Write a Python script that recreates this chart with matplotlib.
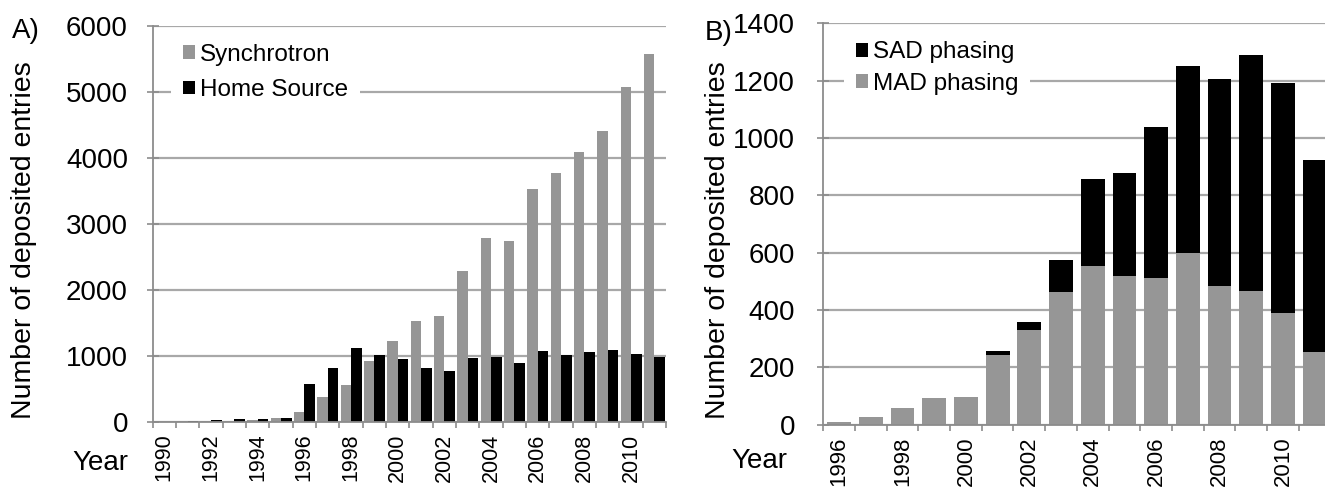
import matplotlib
matplotlib.use("Agg")
import matplotlib.pyplot as plt
from matplotlib.patches import Patch
import numpy as np

plt.rcParams['font.family'] = ['Liberation Sans', 'DejaVu Sans']

# Panel A data
years_a = list(range(1990, 2012))
synchrotron = [0, 5, 10, 15, 20, 60, 152, 370, 558, 914, 1228, 1525, 1601, 2283,
               2783, 2732, 3525, 3763, 4091, 4404, 5066, 5566]
home_source = [0, 10, 30, 45, 35, 50, 568, 812, 1117, 1005, 944, 808, 773, 960,
               980, 889, 1071, 1015, 1056, 1091, 1020, 985]

# Panel B data
years_b = list(range(1996, 2012))
mad = [8, 26, 57, 92, 97, 243, 331, 464, 555, 517, 513, 597, 483, 467, 388, 253]
total_b = [8, 26, 57, 92, 97, 258, 357, 574, 857, 877, 1038, 1250, 1207, 1289, 1190, 922]
sad = [t - m for t, m in zip(total_b, mad)]

GRAY = '#969696'
GRID = '#a8a8a8'
SPINE = '#8c8c8c'

W, H = 1325, 487
fig = plt.figure(figsize=(W / 100, H / 100), dpi=100)

def px_axes(left, right, top, bottom):
    return fig.add_axes([left / W, (H - bottom) / H, (right - left) / W, (bottom - top) / H])

axA = px_axes(152.7, 666.0, 25.7, 421.7)
axB = px_axes(823.3, 823.3 + 16 * 31.7, 23.3, 424.6)

def style(ax, n, years, ymax, ystep, ypad, xfs):
    ax.set_xlim(-0.5, n - 0.5)
    ax.set_ylim(0, ymax)
    ax.set_yticks(np.arange(0, ymax + 1, ystep))
    ax.yaxis.grid(True, color=GRID, linewidth=1.6)
    ax.set_axisbelow(True)
    for s in ['top', 'right']:
        ax.spines[s].set_visible(False)
    for s in ['left', 'bottom']:
        ax.spines[s].set_color(SPINE)
        ax.spines[s].set_linewidth(1.3)
    ax.tick_params(axis='y', direction='inout', length=9, width=1.2, color=SPINE,
                   labelsize=20, pad=ypad)
    ax.set_xticks(np.arange(n + 1) - 0.5)
    ax.set_xticklabels([])
    ax.tick_params(axis='x', which='major', direction='out', length=4.5, width=1.2, color=SPINE)
    ax.set_xticks(np.arange(n), minor=True)
    ax.set_xticklabels([str(y) if i % 2 == 0 else '' for i, y in enumerate(years)],
                       minor=True, rotation=90, fontsize=xfs)
    ax.tick_params(axis='x', which='minor', length=0, pad=8.5)

def make_legend(ax, handles, labels, x, spacing):
    leg = ax.legend(handles, labels, loc='upper left',
                    bbox_to_anchor=(x, 0.985), fontsize=17.5, frameon=True,
                    handlelength=0.5, handleheight=0.5, handletextpad=0.2,
                    labelspacing=spacing, borderpad=0.5, borderaxespad=0.0)
    fr = leg.get_frame()
    fr.set_edgecolor('none')
    fr.set_facecolor('white')
    fr.set_alpha(1)
    leg.set_zorder(2.3)
    return leg

# Panel A
xa = np.arange(len(years_a))
bw = 0.45
axA.bar(xa - bw / 2, synchrotron, width=bw, color=GRAY, label='Synchrotron', zorder=2)
axA.bar(xa + bw / 2, home_source, width=bw, color='black', label='Home Source', zorder=2)
style(axA, len(years_a), years_a, 6000, 1000, 13.3, 15.5)
hA = [Patch(facecolor=GRAY, edgecolor='none'), Patch(facecolor='black', edgecolor='none')]
make_legend(axA, hA, ['Synchrotron', 'Home Source'], 0.035, 0.55)

# Panel B
xb = np.arange(len(years_b))
axB.bar(xb, mad, width=0.75, color=GRAY, label='MAD phasing', zorder=2)
axB.bar(xb, sad, width=0.75, bottom=mad, color='black', label='SAD phasing', zorder=2)
style(axB, len(years_b), years_b, 1400, 200, 15.9, 16)
hB = [Patch(facecolor='black', edgecolor='none'), Patch(facecolor=GRAY, edgecolor='none')]
make_legend(axB, hB, ['SAD phasing', 'MAD phasing'], 0.04, 0.38)

# Figure texts
fig.text(12 / W, (H - 38) / H, 'A)', fontsize=20, ha='left', va='baseline')
fig.text(705 / W, (H - 40) / H, 'B)', fontsize=20, ha='left', va='baseline')
fig.text(24 / W, (H - 240) / H, 'Number of deposited entries', fontsize=20.5,
         rotation=90, ha='center', va='center')
fig.text(718 / W, (H - 240) / H, 'Number of deposited entries', fontsize=20.5,
         rotation=90, ha='center', va='center')
fig.text(128 / W, (H - 470) / H, 'Year', fontsize=20, ha='right', va='baseline')
fig.text(787 / W, (H - 468) / H, 'Year', fontsize=20, ha='right', va='baseline')

fig.savefig('out.png', dpi=100)
